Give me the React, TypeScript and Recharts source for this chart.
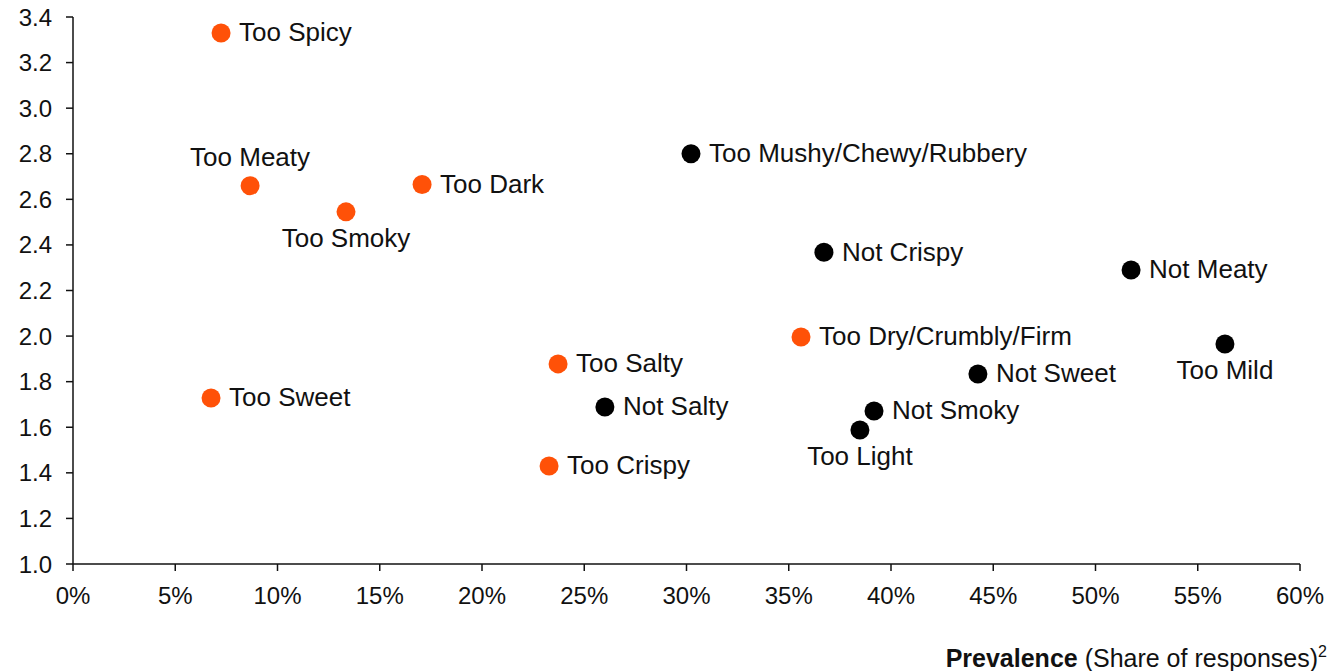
import { ScatterChart, Scatter, XAxis, YAxis } from 'recharts';

// "Too ..." issues highlighted in orange
const tooNames = ['Too Spicy', 'Too Meaty', 'Too Smoky', 'Too Dark', 'Too Sweet', 'Too Salty', 'Too Crispy', 'Too Dry/Crumbly/Firm'];
const tooPrevalence = [0.0724, 0.0866, 0.1335, 0.1707, 0.0675, 0.2372, 0.2328, 0.356];
const tooSeverity = [3.33, 2.66, 2.545, 2.665, 1.728, 1.878, 1.43, 1.996];

// remaining issues in black
const otherNames = ['Too Mushy/Chewy/Rubbery', 'Not Crispy', 'Not Meaty', 'Too Mild', 'Not Sweet', 'Not Smoky', 'Too Light', 'Not Salty'];
const otherPrevalence = [0.3022, 0.3672, 0.5174, 0.5633, 0.4425, 0.3917, 0.3848, 0.2601];
const otherSeverity = [2.8, 2.368, 2.29, 1.965, 1.834, 1.671, 1.588, 1.689];

const xTicks = [0, 0.05, 0.1, 0.15, 0.2, 0.25, 0.3, 0.35, 0.4, 0.45, 0.5, 0.55, 0.6];
const yTicks = [1.0, 1.2, 1.4, 1.6, 1.8, 2.0, 2.2, 2.4, 2.6, 2.8, 3.0, 3.2, 3.4];

// where the label sits relative to its dot (default: right)
const labelSide: Record<string, 'above' | 'below'> = {
  'Too Meaty': 'above',
  'Too Smoky': 'below',
  'Too Mild': 'below',
  'Too Light': 'below',
};

const FONT = '"Liberation Sans", Arial, sans-serif';
const ORANGE = '#ff5108';
const INK = '#111111';

const toRows = (names: string[], xs: number[], ys: number[]) =>
  names.map((name, i) => ({ name, x: xs[i], y: ys[i] }));

const tooData = toRows(tooNames, tooPrevalence, tooSeverity);
const otherData = toRows(otherNames, otherPrevalence, otherSeverity);

const makeDot = (color: string) => (props: any) => {
  const { cx, cy, payload } = props;
  const side = labelSide[payload.name];
  let tx = cx + 18;
  let ty = cy - 1;
  let anchor: 'start' | 'middle' = 'start';
  if (side === 'above') {
    tx = cx;
    ty = cy - 29;
    anchor = 'middle';
  } else if (side === 'below') {
    tx = cx;
    ty = cy + 26;
    anchor = 'middle';
  }
  return (
    <g>
      <circle cx={cx} cy={cy} r={9.5} fill={color} />
      <text x={tx} y={ty} dy="0.36em" textAnchor={anchor} fontFamily={FONT} fontSize={26} fill={INK}>
        {payload.name}
      </text>
    </g>
  );
};

const AxisTitle = () => {
  return (
    <text x={1327} y={667} textAnchor="end" fontFamily={FONT} fontSize={25} fill={INK}>
      <tspan fontWeight={600}>Prevalence</tspan>
      <tspan> (Share of responses)</tspan>
      <tspan fontSize={16} dy={-10}>2</tspan>
    </text>
  );
};

export default function App() {
  return (
    <div style={{ position: 'absolute', left: 0, top: 0, background: '#fff' }}>
      <ScatterChart width={1330} height={671} margin={{ top: 17, right: 30, bottom: 57, left: 0 }}>
        <XAxis
          type="number"
          dataKey="x"
          domain={[0, 0.6]}
          ticks={xTicks}
          tickFormatter={(v: number) => `${Math.round(v * 100)}%`}
          stroke={INK}
          strokeWidth={1.5}
          tickSize={7}
          tick={{ fill: INK, fontSize: 24, fontFamily: FONT, dy: 14 }}
          height={50}
          label={<AxisTitle />}
        />
        <YAxis
          type="number"
          dataKey="y"
          domain={[1, 3.4]}
          ticks={yTicks}
          tickFormatter={(v: number) => v.toFixed(1)}
          stroke={INK}
          strokeWidth={1.5}
          tickSize={7}
          tick={{ fill: INK, fontSize: 24, fontFamily: FONT, dx: -12 }}
          width={73}
        />
        <Scatter data={tooData} fill={ORANGE} shape={makeDot(ORANGE)} isAnimationActive={false} />
        <Scatter data={otherData} fill="#000" shape={makeDot('#000')} isAnimationActive={false} />
      </ScatterChart>
    </div>
  );
}
